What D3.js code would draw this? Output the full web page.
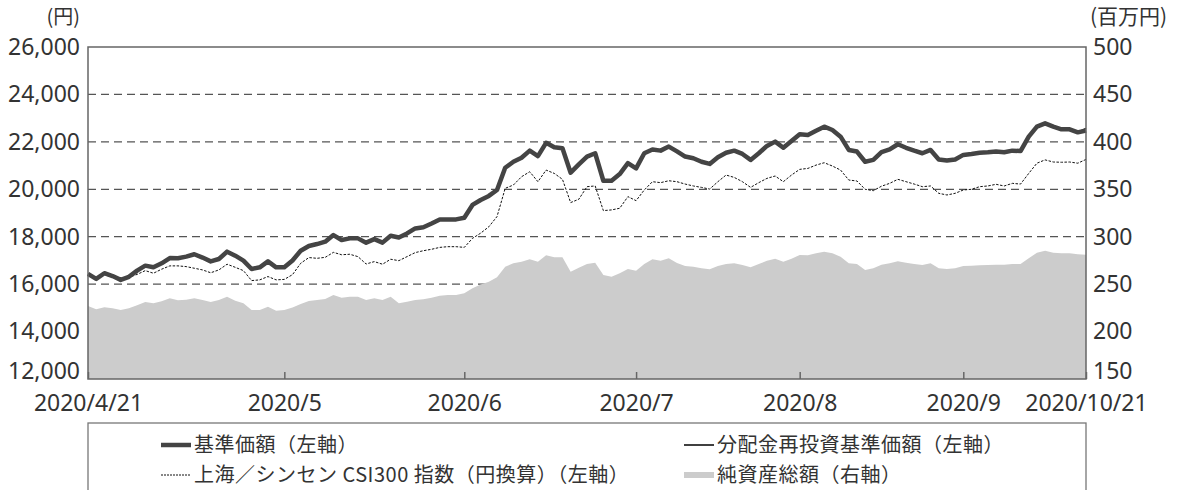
<!DOCTYPE html>
<html>
<head>
<meta charset="utf-8">
<script src="https://cdn.jsdelivr.net/npm/d3@7"></script>
<style>
  body { margin: 0; background: #fff; }
  svg { display: block; }
</style>
</head>
<body>
<script>
// business-day index from 2020/4/21 to 2020/10/21
const tickIdx = [0, 24, 46, 67, 87, 107, 122];
const tickLabels = ["2020/4/21", "2020/5", "2020/6", "2020/7", "2020/8", "2020/9", "2020/10/21"];

// 基準価額 (円)
const nav = [
  16430, 16220, 16460, 16340, 16180, 16310, 16570, 16780, 16710, 16880,
  17100, 17090, 17160, 17260, 17120, 16960, 17060, 17370, 17200, 16990,
  16640, 16710, 16960, 16710, 16710, 17000, 17410, 17610, 17690, 17790,
  18070, 17860, 17930, 17930, 17750, 17900, 17750, 18040, 17970, 18140,
  18350, 18400, 18560, 18730, 18730, 18730, 18800, 19340, 19550, 19720,
  19970, 20910, 21160, 21330, 21630, 21400, 21960, 21770, 21730, 20700,
  21050, 21380, 21520, 20360, 20360, 20640, 21100, 20880, 21520, 21680,
  21630, 21800, 21600, 21380, 21310, 21160, 21070, 21350, 21540, 21630,
  21490, 21240, 21520, 21830, 22010, 21750, 22040, 22320, 22290, 22470,
  22640, 22500, 22220, 21660, 21590, 21160, 21240, 21570, 21680, 21900,
  21750, 21630, 21520, 21660, 21260, 21210, 21260, 21450, 21490, 21540,
  21560, 21590, 21560, 21630, 21610, 22220, 22640, 22780, 22640, 22530,
  22530, 22400, 22480
];

// 分配金再投資基準価額 (円)
const reinvest = [
  16430, 16220, 16460, 16340, 16180, 16310, 16570, 16780, 16710, 16880,
  17100, 17090, 17160, 17260, 17120, 16960, 17060, 17370, 17200, 16990,
  16640, 16710, 16960, 16710, 16710, 17000, 17410, 17610, 17690, 17790,
  18070, 17860, 17930, 17930, 17750, 17900, 17750, 18040, 17970, 18140,
  18350, 18400, 18560, 18730, 18730, 18730, 18800, 19340, 19550, 19720,
  19970, 20910, 21160, 21330, 21630, 21400, 21960, 21770, 21730, 20700,
  21050, 21380, 21520, 20360, 20360, 20640, 21100, 20880, 21520, 21680,
  21630, 21800, 21600, 21380, 21310, 21160, 21070, 21350, 21540, 21630,
  21490, 21240, 21520, 21830, 22010, 21750, 22040, 22320, 22290, 22470,
  22640, 22500, 22220, 21660, 21590, 21160, 21240, 21570, 21680, 21900,
  21750, 21630, 21520, 21660, 21260, 21210, 21260, 21450, 21490, 21540,
  21560, 21590, 21560, 21630, 21610, 22220, 22640, 22780, 22640, 22530,
  22530, 22400, 22570
];

// 上海／シンセン CSI300 指数 (円換算)
const csi = [
  16380, 16200, 16400, 16300, 16150, 16290, 16410, 16570, 16460, 16630,
  16770, 16770, 16740, 16670, 16600, 16480, 16600, 16840, 16710, 16570,
  16150, 16180, 16320, 16180, 16200, 16400, 16880, 17120, 17090, 17130,
  17340, 17240, 17260, 17160, 16850, 16950, 16840, 17050, 16990, 17160,
  17330, 17410, 17470, 17550, 17580, 17580, 17550, 17930, 18150, 18420,
  18850, 20040, 20180, 20530, 20740, 20320, 20810, 20670, 20420, 19440,
  19580, 20110, 20140, 19100, 19130, 19200, 19690, 19520, 19970, 20320,
  20280, 20360, 20320, 20220, 20140, 20080, 20010, 20320, 20600, 20500,
  20320, 20080, 20280, 20460, 20560, 20320, 20600, 20840, 20880, 21020,
  21120, 20980, 20810, 20390, 20350, 20000, 19940, 20130, 20250, 20420,
  20320, 20220, 20110, 20140, 19830, 19760, 19830, 19970, 20000, 20110,
  20140, 20210, 20140, 20250, 20220, 20670, 21100, 21240, 21150, 21140,
  21150, 21100, 21260
];

// 純資産総額 (百万円)
const netAssets = [
  227, 223.5, 225.6, 224.5, 222.7, 224.5, 227.7, 231.2, 229.8, 231.9,
  235, 233, 233.6, 235, 233.3, 231.2, 233.3, 236.8, 232.5, 229.8,
  222.7, 222.7, 226.2, 222, 222.7, 225.5, 229, 232.2, 233.3, 234.3,
  238.5, 235.7, 236.8, 236.8, 233.3, 235, 233.3, 236.8, 229.8, 231.5,
  233.3, 234, 235.7, 237.8, 238.5, 238.5, 240.3, 245.6, 249.5, 252.6,
  257.2, 268.4, 272, 273.7, 276.2, 273.7, 280.4, 278.3, 278.3, 263.1,
  267.3, 271.2, 272.6, 259.6, 257.8, 261.4, 266, 264.2, 271.2, 276.2,
  274.7, 277.2, 272.3, 269.1, 268.4, 266.7, 265.6, 269.1, 271.2, 272,
  270.2, 267.7, 271.2, 274.7, 276.8, 273.7, 276.8, 280.7, 280.4, 282.5,
  284.2, 282.5, 278.9, 272, 271.2, 264.9, 266.7, 270.5, 272, 274.1,
  272.6, 271.2, 270.2, 272, 266.7, 266, 266.7, 269.1, 269.5, 269.8,
  270.2, 270.5, 270.5, 271.2, 271.2, 277.2, 283.1, 285.3, 283.1, 282.5,
  282.5, 281.4, 281
];

const leftTicks = [12000, 14000, 16000, 18000, 20000, 22000, 24000, 26000];
const rightTicks = [150, 200, 250, 300, 350, 400, 450, 500];

const W = 1182, H = 490;
const plotL = 88, plotR = 1086, plotT = 47, plotB = 379;
const numFont = "'Noto Sans', sans-serif";
const jpFont = "'Noto Sans CJK JP', sans-serif";

const svg = d3.select("body").append("svg")
  .attr("width", W)
  .attr("height", H);

const x = d3.scaleLinear().domain([0, nav.length - 1]).range([plotL, plotR]);
const y = d3.scaleLinear().domain([12000, 26000]).range([plotB, plotT]);
const y2 = d3.scaleLinear().domain([150, 500]).range([plotB, plotT]);

// grid
svg.append("g")
  .selectAll("line")
  .data(leftTicks.slice(1, -1))
  .enter()
  .append("line")
  .attr("x1", plotL)
  .attr("x2", plotR)
  .attr("y1", d => y(d))
  .attr("y2", d => y(d))
  .attr("stroke", "#555")
  .attr("stroke-width", 1.3)
  .attr("stroke-dasharray", "8,5");

// net assets area
const area = d3.area()
  .x((d, i) => x(i))
  .y0(plotB)
  .y1(d => y2(d));

svg.append("path")
  .datum(netAssets)
  .attr("d", area)
  .attr("fill", "#cccccc");

const line = d3.line().x((d, i) => x(i)).y(d => y(d));

svg.append("path")
  .datum(csi)
  .attr("d", line)
  .attr("fill", "none")
  .attr("stroke", "#111")
  .attr("stroke-width", 1)
  .attr("stroke-dasharray", "2.5,1.5");

svg.append("path")
  .datum(reinvest)
  .attr("d", line)
  .attr("fill", "none")
  .attr("stroke", "#111")
  .attr("stroke-width", 1.4);

svg.append("path")
  .datum(nav)
  .attr("d", line)
  .attr("fill", "none")
  .attr("stroke", "#444")
  .attr("stroke-width", 4.5)
  .attr("stroke-linejoin", "round");

// frame
svg.append("rect")
  .attr("x", plotL)
  .attr("y", plotT)
  .attr("width", plotR - plotL)
  .attr("height", plotB - plotT)
  .attr("fill", "none")
  .attr("stroke", "#666")
  .attr("stroke-width", 1.5);

// axes
const xAxis = d3.axisBottom(x)
  .tickValues(tickIdx)
  .tickFormat((d, i) => tickLabels[i])
  .tickSizeInner(-7)
  .tickSizeOuter(0)
  .tickPadding(16);

const gx = svg.append("g")
  .attr("transform", `translate(0,${plotB})`)
  .call(xAxis);
gx.select(".domain").remove();
gx.selectAll(".tick line").attr("stroke", "#666").attr("stroke-width", 1.5);
gx.selectAll("text")
  .attr("font-family", numFont)
  .attr("font-size", 23)
  .attr("fill", "#333");

const yAxis = d3.axisLeft(y)
  .tickValues(leftTicks)
  .tickFormat(d3.format(","))
  .tickSize(0)
  .tickPadding(8);

const gy = svg.append("g")
  .attr("transform", `translate(${plotL},0)`)
  .call(yAxis);
gy.select(".domain").remove();
gy.selectAll("text")
  .attr("font-family", numFont)
  .attr("font-size", 23)
  .attr("fill", "#333");
// lowest label sits a little above its tick
gy.selectAll("text").filter(d => d === 12000).attr("y", -8);

const y2Axis = d3.axisRight(y2)
  .tickValues(rightTicks)
  .tickSize(0)
  .tickPadding(7);

const gy2 = svg.append("g")
  .attr("transform", `translate(${plotR},0)`)
  .call(y2Axis);
gy2.select(".domain").remove();
gy2.selectAll("text")
  .attr("font-family", numFont)
  .attr("font-size", 23)
  .attr("fill", "#333");
gy2.selectAll("text").filter(d => d === 150).attr("y", -8);

// unit labels
svg.append("text")
  .attr("x", 80)
  .attr("y", 24)
  .attr("text-anchor", "end")
  .attr("font-family", jpFont)
  .attr("font-size", 20)
  .attr("fill", "#333")
  .text("(円)");

svg.append("text")
  .attr("x", 1090)
  .attr("y", 24)
  .attr("font-family", jpFont)
  .attr("font-size", 21)
  .attr("fill", "#333")
  .text("(百万円)");

// legend
svg.append("rect")
  .attr("x", plotL)
  .attr("y", 423)
  .attr("width", plotR - plotL)
  .attr("height", 100)
  .attr("fill", "none")
  .attr("stroke", "#777")
  .attr("stroke-width", 1.3);

const legendItems = [
  { label: "基準価額（左軸）", x: 161, y: 445, kind: "thick" },
  { label: "分配金再投資基準価額（左軸）", x: 684, y: 445, kind: "thin" },
  { label: "上海／シンセン CSI300 指数（円換算）（左軸）", x: 161, y: 475, kind: "dash" },
  { label: "純資産総額（右軸）", x: 684, y: 475, kind: "area" }
];

const lg = svg.append("g")
  .selectAll("g")
  .data(legendItems)
  .enter()
  .append("g")
  .attr("transform", d => `translate(${d.x},${d.y})`);

lg.filter(d => d.kind === "area")
  .append("rect")
  .attr("x", 0)
  .attr("y", -3)
  .attr("width", 30)
  .attr("height", 6)
  .attr("fill", "#cccccc");

lg.filter(d => d.kind !== "area")
  .append("line")
  .attr("x1", 0)
  .attr("x2", 30)
  .attr("stroke", d => d.kind === "thick" ? "#444" : "#111")
  .attr("stroke-width", d => d.kind === "thick" ? 4.5 : (d.kind === "thin" ? 1.6 : 1))
  .attr("stroke-dasharray", d => d.kind === "dash" ? "2,1" : null);

lg.append("text")
  .attr("x", 33)
  .attr("y", 0)
  .attr("dy", "0.35em")
  .attr("font-family", jpFont)
  .attr("font-size", 20)
  .attr("letter-spacing", 0.5)
  .attr("fill", "#333")
  .text(d => d.label);
</script>
</body>
</html>
